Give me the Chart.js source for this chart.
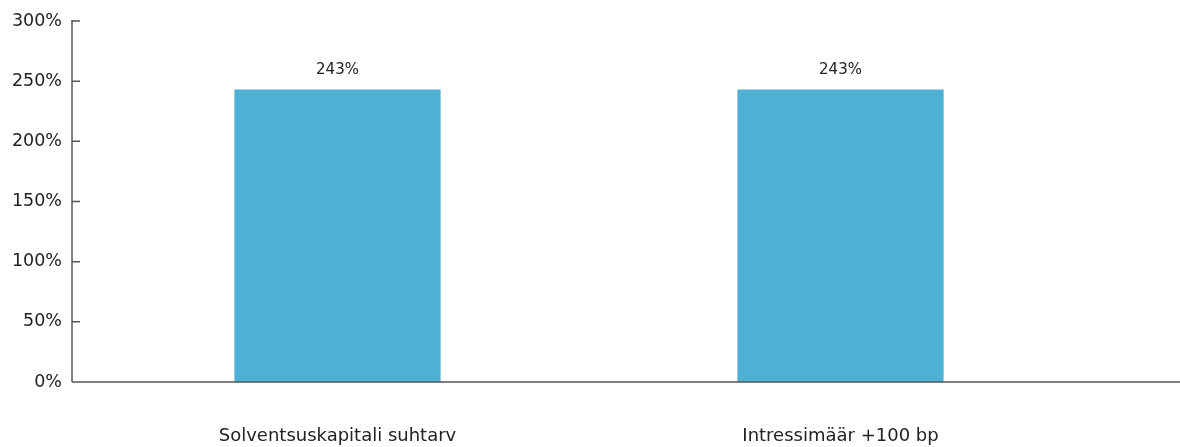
<!DOCTYPE html>
<html lang="fi">
<head>
    <meta charset="UTF-8">
    <title>Solventsuskapitali</title>
    <script src="https://cdn.jsdelivr.net/npm/chart.js@4.4.1/dist/chart.umd.min.js"></script>
    <style>
        html, body { margin: 0; padding: 0; background: #fff; }
        #wrap { width: 1180px; height: 447px; }
    </style>
</head>
<body>
<div id="wrap"><canvas id="myChart" width="1180" height="447"></canvas></div>
<script>
    const categories = ['Solventsuskapitali suhtarv', 'Intressimäär +100 bp'];
    const values = [243, 243];
    const valueLabels = ['243%', '243%'];
    const yTicks = [0, 50, 100, 150, 200, 250, 300];

    const axisColor = '#555555';
    const textColor = '#222222';
    const fontFamily = '"DejaVu Sans", sans-serif';

    // axis lines and inward tick marks, plus value labels above the bars
    const axesPlugin = {
        id: 'axesPlugin',
        afterDatasetsDraw(chart) {
            const ctx = chart.ctx;
            const y = chart.scales.y;
            const axisX = 72;
            ctx.save();
            ctx.strokeStyle = axisColor;
            ctx.lineWidth = 1.5;
            ctx.beginPath();
            ctx.moveTo(axisX, y.getPixelForValue(300) - 1);
            ctx.lineTo(axisX, y.getPixelForValue(0));
            ctx.moveTo(axisX, y.getPixelForValue(0));
            ctx.lineTo(chart.width, y.getPixelForValue(0));
            yTicks.forEach(function (t) {
                const py = y.getPixelForValue(t);
                ctx.moveTo(axisX, py);
                ctx.lineTo(axisX + 8, py);
            });
            ctx.stroke();

            ctx.fillStyle = textColor;
            ctx.font = '15px ' + fontFamily;
            ctx.textAlign = 'center';
            ctx.textBaseline = 'middle';
            const meta = chart.getDatasetMeta(0);
            meta.data.forEach(function (bar, i) {
                ctx.fillText(valueLabels[i], bar.x, bar.y - 19);
            });
            ctx.restore();
        }
    };

    const ctx = document.getElementById('myChart').getContext('2d');
    const myChart = new Chart(ctx, {
        type: 'bar',
        data: {
            labels: categories,
            datasets: [{
                data: values,
                backgroundColor: '#4DB0D4',
                borderWidth: 0,
                barPercentage: 0.41,
                categoryPercentage: 1.0
            }]
        },
        options: {
            responsive: false,
            animation: false,
            layout: { padding: { top: 21, right: 88, left: 0, bottom: 0 } },
            plugins: {
                legend: { display: false },
                tooltip: { enabled: false }
            },
            scales: {
                x: {
                    grid: { display: false, drawTicks: false },
                    border: { display: false },
                    ticks: {
                        color: textColor,
                        font: { family: fontFamily, size: 18 },
                        padding: 44,
                        maxRotation: 0
                    },
                    afterFit(scale) { scale.height = 65; }
                },
                y: {
                    min: 0,
                    max: 300,
                    grid: { display: false, drawTicks: false },
                    border: { display: false },
                    afterBuildTicks(scale) {
                        scale.ticks = yTicks.map(function (v) { return { value: v }; });
                    },
                    ticks: {
                        color: textColor,
                        font: { family: fontFamily, size: 17.5 },
                        padding: 24,
                        callback: function (v) { return v + '%'; }
                    },
                    afterFit(scale) {
                        scale.width = 86;
                        scale.paddingTop = 10;
                        scale.paddingBottom = 10;
                    }
                }
            }
        },
        plugins: [axesPlugin]
    });
</script>
</body>
</html>
